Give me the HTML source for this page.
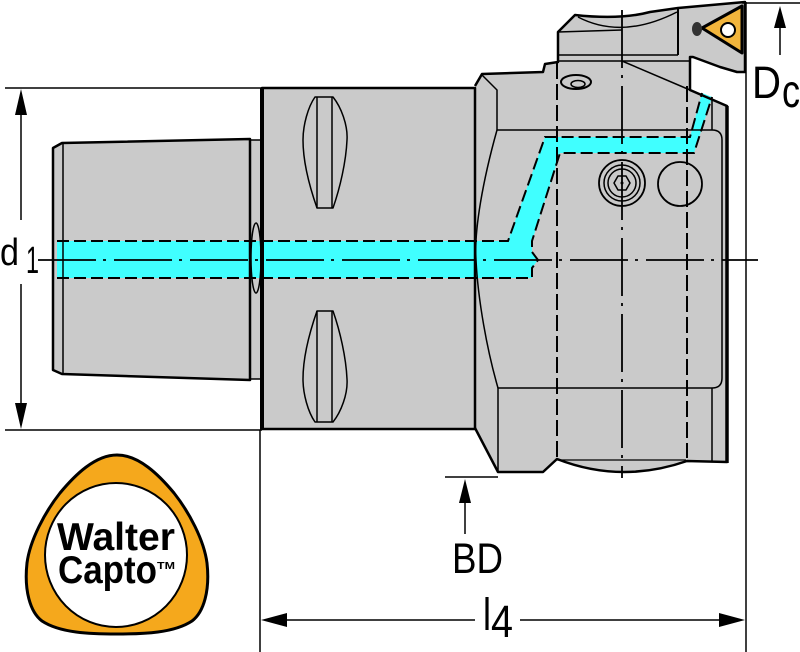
<!DOCTYPE html>
<html><head><meta charset="utf-8"><style>html,body{margin:0;padding:0;background:#fff}svg{display:block}</style></head>
<body>
<svg width="800" height="652" viewBox="0 0 800 652" xmlns="http://www.w3.org/2000/svg" font-family="Liberation Sans, Arial, sans-serif">
<rect width="800" height="652" fill="#fff"/>
<!-- fills -->
<polygon points="53,148 62,143 250,139 250,380 62,374 53,370" fill="#cacaca"/>
<rect x="250" y="140" width="11" height="239" fill="#cacaca"/>
<rect x="262" y="88" width="213" height="341" fill="#cacaca"/>
<path d="M475,86 L482,74 L543,72 L545,64 L558,62 L558,32 L575,15 Q620,20 650,12 L678,8 L745,2 L745,72 L737,72 L720,67 L693,57 L690,57 L690,90 L727,106 L727,462 L687,461 Q621,484 557,459 L543,472 L498,472 L475,428 Z" fill="#cacaca"/>

<!-- coolant -->
<polygon points="57,241 508,241 545,137 690,137 702,93 712,97 694,153 560,153 532,241 532,252 538,260 532,268 532,278 57,278" fill="#40ffff"/>
<g fill="none" stroke="#000" stroke-width="2" stroke-dasharray="12 5">
<path d="M57,241 L508,241 L545,137 L690,137 L702,93"/>
<path d="M57,278 L532,278 L532,268 L538,260 L532,252 L532,241 L560,153 L694,153 L712,97"/>
</g>

<!-- outlines -->
<g fill="none" stroke="#000" stroke-linejoin="round">
<polygon points="53,148 62,143 250,139 250,380 62,374 53,370" stroke-width="2.5"/>
<line x1="63" y1="143" x2="63" y2="374" stroke-width="1.5"/>
<rect x="250" y="140" width="11" height="239" stroke-width="1.5"/>
<ellipse cx="256" cy="258" rx="5" ry="35" stroke-width="1.5"/>
<rect x="262" y="88" width="213" height="341" stroke-width="2.5"/>
<line x1="262" y1="88" x2="262" y2="430" stroke-width="4"/>
<path d="M475,86 L482,74 L543,72 L545,64 L558,62 L558,32 L575,15 Q620,20 650,12 L678,8 L745,2 L745,72 L737,72 L720,67 L693,57 L690,57 L690,90 L727,106 L727,462 L687,461 Q621,484 557,459 L543,472 L498,472 L475,428" stroke-width="2.5"/>
<line x1="727" y1="106" x2="727" y2="463" stroke-width="3.5"/>
<!-- grooves -->
<path d="M315,97 L333,97 C341,107 348,125 347,140 C346,162 340,188 333,208 L317,208 C310,188 303,162 303,140 C303,125 308,107 315,97 Z" stroke-width="1.5"/>
<line x1="317" y1="97" x2="317" y2="208" stroke-width="1.5"/>
<line x1="332" y1="97" x2="332" y2="208" stroke-width="1.5"/>
<path d="M315,422 L333,422 C341,412 348,394 347,379 C346,357 340,331 333,311 L317,311 C310,331 303,357 303,379 C303,394 308,412 315,422 Z" stroke-width="1.5"/>
<line x1="317" y1="311" x2="317" y2="422" stroke-width="1.5"/>
<line x1="332" y1="311" x2="332" y2="422" stroke-width="1.5"/>
<!-- head inner -->
<path d="M482,75 L497,90 L497,130" stroke-width="1.5"/>
<path d="M497,130 C483,180 474,230 476,260 C478,300 487,350 498,388" stroke-width="1.5"/>
<path d="M497,130 L712,130 Q722,130 722,140 L722,378 Q722,388 712,388 L498,388 L498,472" stroke-width="1.5"/>
<line x1="712" y1="388" x2="712" y2="462" stroke-width="1.5"/>
<line x1="712" y1="97" x2="712" y2="130" stroke-width="1.5"/>
<line x1="558" y1="55" x2="678" y2="55" stroke-width="1.5"/>
<line x1="558" y1="61" x2="690" y2="61" stroke-width="1.5"/>
<line x1="622" y1="61" x2="690" y2="90" stroke-width="1.5"/>
<line x1="678" y1="8" x2="678" y2="55" stroke-width="2"/>
<path d="M578,17 Q622,40 677,12" stroke-width="1.5"/>
<line x1="558" y1="32" x2="622" y2="30" stroke-width="1.5"/>
<line x1="557" y1="460" x2="686" y2="460" stroke-width="1.2"/>
<!-- screws -->
<ellipse cx="576" cy="82" rx="15" ry="7" stroke-width="2"/>
<ellipse cx="578" cy="84" rx="7" ry="3.5" stroke-width="1.5"/>
<circle cx="622" cy="183" r="23" stroke-width="1.8"/>
<circle cx="622" cy="183" r="18" stroke-width="1.5"/>
<circle cx="622" cy="183" r="14" stroke-width="1.5"/>
<polygon points="630,183 626,190 618,190 614,183 618,176 626,176" stroke-width="1.5"/>
<circle cx="680" cy="184" r="22" stroke-width="1.8"/>
</g>
<circle cx="622" cy="183" r="1.5" fill="#000"/>

<!-- insert -->
<polygon points="702,28 742,6 742,53" fill="#f2b53c" stroke="#000" stroke-width="3" stroke-linejoin="round"/>
<circle cx="728" cy="30" r="7" fill="#fff" stroke="#000" stroke-width="2"/>
<ellipse cx="697" cy="29" rx="5" ry="7" fill="#333"/>

<!-- hidden / center lines -->
<g fill="none" stroke="#000" stroke-width="2">
<line x1="557" y1="63" x2="557" y2="458" stroke-dasharray="16 5"/>
<line x1="687" y1="86" x2="687" y2="458" stroke-dasharray="16 5"/>
<line x1="622" y1="10" x2="622" y2="478" stroke-dasharray="58 7 3 8" stroke-width="1.8"/>
<line x1="38" y1="260" x2="758" y2="260" stroke-dasharray="58 7 3 8" stroke-width="1.8"/>
</g>

<!-- dimension lines -->
<g stroke="#000" stroke-width="1.5" fill="none">
<line x1="5" y1="88" x2="262" y2="88"/>
<line x1="5" y1="430" x2="262" y2="430"/>
<line x1="21" y1="100" x2="21" y2="220"/>
<line x1="21" y1="284" x2="21" y2="420"/>
<line x1="260" y1="430" x2="260" y2="652"/>
<line x1="746" y1="2" x2="746" y2="652"/>
<line x1="742" y1="3" x2="800" y2="3"/>
<line x1="780" y1="20" x2="780" y2="55"/>
<line x1="445" y1="477" x2="498" y2="477"/>
<line x1="465" y1="495" x2="465" y2="534"/>
<line x1="270" y1="620" x2="475" y2="620"/>
<line x1="520" y1="620" x2="736" y2="620"/>
</g>
<g fill="#000">
<polygon points="21,89 15,115 27,115"/>
<polygon points="21,429 15,403 27,403"/>
<polygon points="780,6 774,28 786,28"/>
<polygon points="465,479 459,503 471,503"/>
<polygon points="261,620 287,613 287,627"/>
<polygon points="745,620 719,613 719,627"/>
</g>

<!-- labels -->
<g fill="#000" font-weight="normal">
<text x="0" y="265" font-size="38" textLength="19" lengthAdjust="spacingAndGlyphs">d</text>
<text x="26" y="273" font-size="38" textLength="13" lengthAdjust="spacingAndGlyphs">1</text>
<text x="752" y="98" font-size="45" textLength="29" lengthAdjust="spacingAndGlyphs">D</text>
<text x="782" y="107" font-size="46" textLength="18" lengthAdjust="spacingAndGlyphs">c</text>
<text x="452" y="573" font-size="43" textLength="51" lengthAdjust="spacingAndGlyphs">BD</text>
<text x="483" y="630" font-size="45" textLength="8" lengthAdjust="spacingAndGlyphs">l</text>
<text x="491" y="637" font-size="45" textLength="22" lengthAdjust="spacingAndGlyphs">4</text>
</g>

<!-- logo -->
<path d="M117,455 C95,455 75,475 60,493 C45,512 30,540 27,563 C24,590 30,612 42,621 C60,633 90,634 117,634 C144,634 174,633 192,621 C204,612 210,590 207,563 C204,540 189,512 174,493 C159,475 139,455 117,455 Z" fill="#f5a81c" stroke="#000" stroke-width="3"/>
<ellipse cx="116" cy="555" rx="71" ry="72" fill="#fff" stroke="#000" stroke-width="2"/>
<text x="57" y="550" font-size="39" font-weight="bold" textLength="118" lengthAdjust="spacingAndGlyphs" fill="#000">Walter</text>
<text x="58" y="583" font-size="39" font-weight="bold" textLength="99" lengthAdjust="spacingAndGlyphs" fill="#000">Capto</text>
<text x="157" y="569" font-size="10" font-weight="bold" textLength="18" lengthAdjust="spacingAndGlyphs" fill="#000">TM</text>
</svg>
</body></html>
